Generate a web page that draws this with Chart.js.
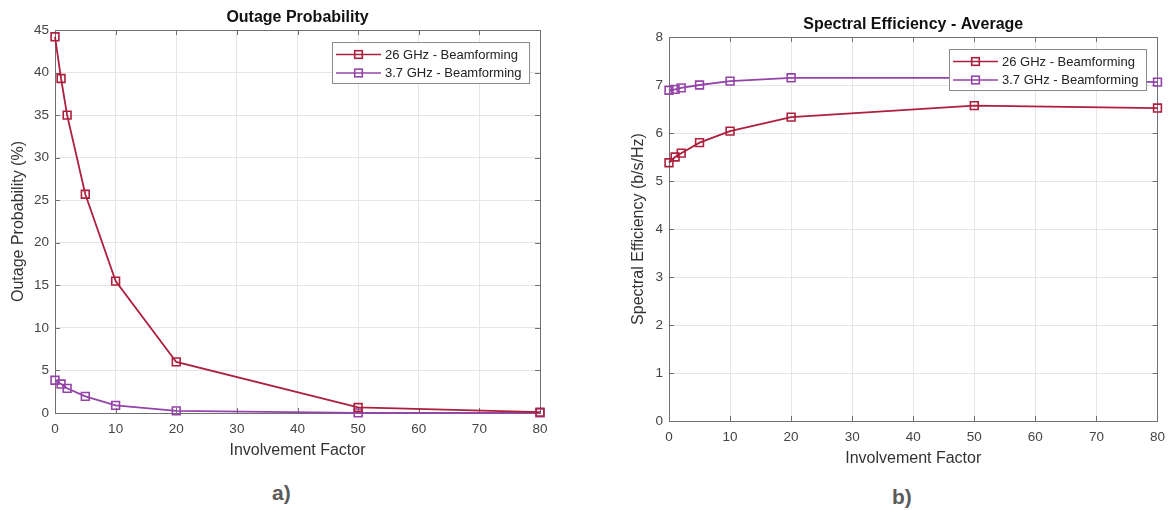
<!DOCTYPE html>
<html>
<head>
<meta charset="utf-8">
<script src="https://cdn.jsdelivr.net/npm/chart.js@4.4.0/dist/chart.umd.min.js"></script>
<style>
    body { margin: 0; background: #fff; width: 1173px; height: 510px; position: relative; overflow: hidden;
           font-family: Arial, "Liberation Sans", sans-serif; }
    #chartA { position: absolute; left: 0; top: 0; }
    #chartB { position: absolute; left: 600px; top: 0; }
    .tag { position: absolute; font-weight: bold; font-size: 21px; line-height: 1; color: #5a5a5a; }
</style>
</head>
<body>
<canvas id="chartA" width="580" height="470"></canvas>
<canvas id="chartB" width="573" height="480"></canvas>
<div class="tag" style="left:272px; top:482px;">a)</div>
<div class="tag" style="left:892px; top:486px;">b)</div>
<script>
const involvement = [0, 1, 2, 5, 10, 20, 50, 80];
const seriesNames = ['26 GHz - Beamforming', '3.7 GHz - Beamforming'];
const outage26 = [44.2, 39.3, 35.0, 25.7, 15.5, 6.0, 0.65, 0.1];
const outage37 = [3.85, 3.4, 2.9, 1.95, 0.9, 0.25, 0.02, 0.02];
const spectral26 = [5.38, 5.5, 5.58, 5.8, 6.04, 6.33, 6.57, 6.52];
const spectral37 = [6.89, 6.91, 6.94, 7.0, 7.08, 7.15, 7.15, 7.06];
const xTicks = { min: 0, max: 80, step: 10 };
const outageTicks = { min: 0, max: 45, step: 5 };
const spectralTicks = { min: 0, max: 8, step: 1 };

const FONT = 'Arial, "Liberation Sans", sans-serif';
const RED = '#ad1f3c';
const PURPLE = '#9444a8';

function points(ys) {
    return involvement.map((x, i) => ({ x: x, y: ys[i] }));
}

function makeDataset(label, ys, color) {
    return {
        label: label,
        data: points(ys),
        borderColor: color,
        backgroundColor: 'rgba(0,0,0,0)',
        borderWidth: 1.8,
        pointStyle: 'rect',
        pointRadius: 5.5,
        pointBorderWidth: 1.6,
        pointBorderColor: color,
        pointBackgroundColor: 'rgba(0,0,0,0)',
        tension: 0,
        clip: false
    };
}

// box, inner ticks, title and legend in MATLAB style
const matlabFrame = {
    id: 'matlabFrame',
    beforeDatasetsDraw(chart) {
        const { ctx, chartArea: a, scales } = chart;
        ctx.save();
        ctx.strokeStyle = '#707070';
        ctx.lineWidth = 1;
        ctx.strokeRect(Math.round(a.left) + 0.5, Math.round(a.top) + 0.5,
                       Math.round(a.right - a.left), Math.round(a.bottom - a.top));
        ctx.beginPath();
        scales.x.ticks.forEach(t => {
            const px = Math.round(scales.x.getPixelForValue(t.value)) + 0.5;
            ctx.moveTo(px, a.bottom); ctx.lineTo(px, a.bottom - 5);
            ctx.moveTo(px, a.top); ctx.lineTo(px, a.top + 5);
        });
        scales.y.ticks.forEach(t => {
            const py = Math.round(scales.y.getPixelForValue(t.value)) + 0.5;
            ctx.moveTo(a.left, py); ctx.lineTo(a.left + 5, py);
            ctx.moveTo(a.right, py); ctx.lineTo(a.right - 5, py);
        });
        ctx.stroke();
        ctx.restore();
    },
    afterDraw(chart, args, opts) {
        const { ctx, chartArea: a } = chart;
        ctx.save();
        // title
        ctx.fillStyle = '#111';
        ctx.font = 'bold 16px ' + FONT;
        ctx.textAlign = 'center';
        ctx.textBaseline = 'middle';
        ctx.fillText(opts.title, (a.left + a.right) / 2, a.top - 12);

        // legend
        ctx.font = '13px ' + FONT;
        const sets = chart.data.datasets;
        const tw = Math.max(...sets.map(d => ctx.measureText(d.label).width));
        const w = 3.5 + 45 + 4 + tw + 8;
        const h = 41;
        const x0 = Math.round(a.right - 11 - w) + 0.5;
        const y0 = Math.round(a.top + 12) + 0.5;
        ctx.fillStyle = '#fff';
        ctx.fillRect(x0, y0, w, h);
        ctx.strokeStyle = '#8a8a8a';
        ctx.lineWidth = 1;
        ctx.strokeRect(x0, y0, w, h);
        sets.forEach((d, i) => {
            const cy = y0 + 12 + i * 18.5;
            ctx.strokeStyle = d.borderColor;
            ctx.lineWidth = 1.6;
            ctx.beginPath();
            ctx.moveTo(x0 + 3.5, cy); ctx.lineTo(x0 + 48.5, cy);
            ctx.stroke();
            ctx.strokeRect(x0 + 26 - 3.8, cy - 3.8, 7.6, 7.6);
            ctx.fillStyle = '#222';
            ctx.textAlign = 'left';
            ctx.fillText(d.label, x0 + 52.5, cy + 0.5);
        });
        ctx.restore();
    }
};

function makeOptions(cfg) {
    return {
        responsive: false,
        animation: false,
        layout: { padding: cfg.padding },
        plugins: {
            legend: { display: false },
            tooltip: { enabled: false },
            matlabFrame: { title: cfg.title }
        },
        scales: {
            x: {
                type: 'linear',
                min: xTicks.min, max: xTicks.max,
                ticks: { stepSize: xTicks.step, padding: 8, color: '#444', font: { size: 13.5, family: FONT } },
                grid: { color: '#e6e6e6', drawTicks: false },
                border: { display: false },
                title: { display: true, text: 'Involvement Factor', color: '#333',
                         font: { size: 16, family: FONT }, padding: { top: 0, bottom: 2.5 } },
                afterFit: s => { s.height = 50; }
            },
            y: {
                min: cfg.yTicks.min, max: cfg.yTicks.max,
                ticks: { stepSize: cfg.yTicks.step, padding: 6, color: '#444', font: { size: 13.5, family: FONT } },
                grid: { color: '#e6e6e6', drawTicks: false },
                border: { display: false },
                title: { display: true, text: cfg.yLabel, color: '#333',
                         font: { size: 16, family: FONT }, padding: { top: cfg.yTitlePad, bottom: 0 } },
                afterFit: s => { s.width = cfg.yWidth; }
            }
        }
    };
}

new Chart(document.getElementById('chartA'), {
    type: 'line',
    data: {
        datasets: [
            makeDataset(seriesNames[0], outage26, RED),
            makeDataset(seriesNames[1], outage37, PURPLE)
        ]
    },
    options: makeOptions({
        title: 'Outage Probability',
        yLabel: 'Outage Probability (%)',
        yTicks: outageTicks,
        yWidth: 55,
        yTitlePad: 8.5,
        padding: { left: 0, top: 30, right: 40, bottom: 7 }
    }),
    plugins: [matlabFrame]
});

new Chart(document.getElementById('chartB'), {
    type: 'line',
    data: {
        datasets: [
            makeDataset(seriesNames[0], spectral26, RED),
            makeDataset(seriesNames[1], spectral37, PURPLE)
        ]
    },
    options: makeOptions({
        title: 'Spectral Efficiency - Average',
        yLabel: 'Spectral Efficiency (b/s/Hz)',
        yTicks: spectralTicks,
        yWidth: 69,
        yTitlePad: 28.5,
        padding: { left: 0, top: 37, right: 14, bottom: 9 }
    }),
    plugins: [matlabFrame]
});
</script>
</body>
</html>
